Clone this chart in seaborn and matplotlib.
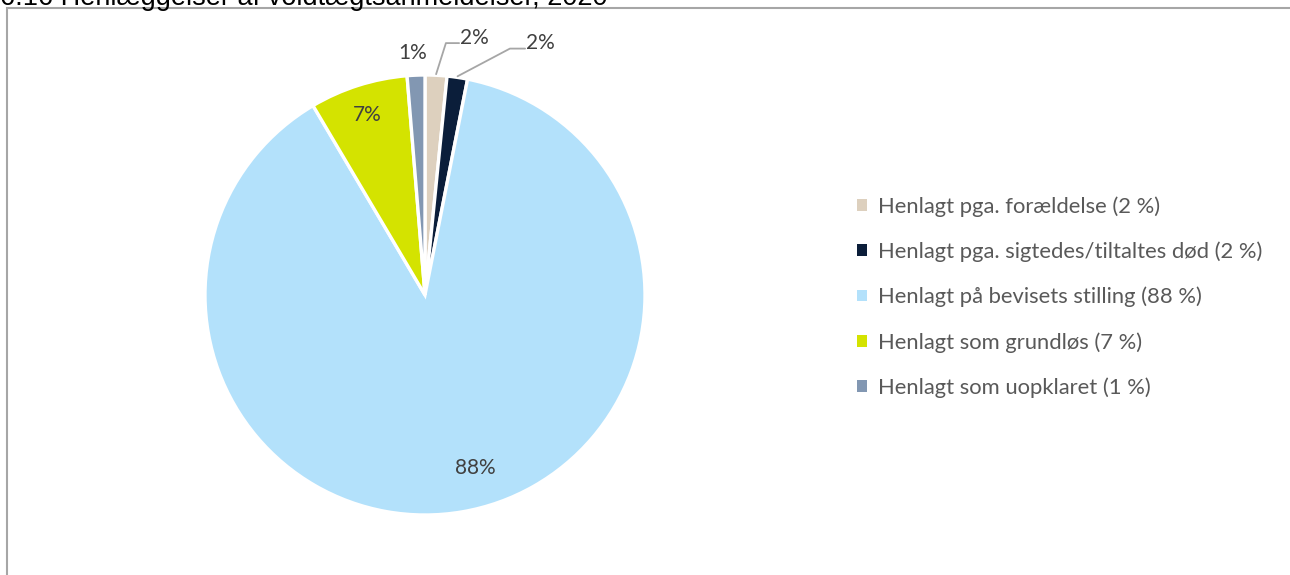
import matplotlib
matplotlib.use("Agg")
import matplotlib.pyplot as plt
from matplotlib.patches import Patch, Rectangle
import numpy as np
import seaborn as sns

categories = [
    "Henlagt pga. forældelse",
    "Henlagt pga. sigtedes/tiltaltes død",
    "Henlagt på bevisets stilling",
    "Henlagt som grundløs",
    "Henlagt som uopklaret",
]
values = [1.6, 1.5, 88.4, 7.2, 1.3]
value_labels = ["2%", "2%", "88%", "7%", "1%"]
legend_pct = ["2 %", "2 %", "88 %", "7 %", "1 %"]
colors = ["#DDD0BE", "#0B1E3A", "#B3E1FB", "#D4E300", "#8297B2"]
title = "6.16 Henlæggelser af voldtægtsanmeldelser, 2020"

sns.set_theme(style="white")
plt.rcParams["font.family"] = ["Lato", "DejaVu Sans"]

W, H = 1290, 575
fig = plt.figure(figsize=(W / 100, H / 100), dpi=100)

# outer frame
fig.patches.append(Rectangle((7 / W, -0.1), 1.2, 1 - 8 / H + 0.1, transform=fig.transFigure,
                             fill=False, edgecolor="#A6A6A6", linewidth=1.5))

# title, cut at the top edge as in the reference
fig.text(0.0, 1 - 5 / H, title, fontsize=19.5, family=["Liberation Sans", "DejaVu Sans"],
         color="#000000", va="baseline", ha="left")

cx, cy, r = 425, 295, 220
ax = fig.add_axes([(cx - r) / W, (H - cy - r) / H, 2 * r / W, 2 * r / H])
wedges, _ = ax.pie(values, colors=colors, startangle=90, counterclock=False,
                   wedgeprops=dict(edgecolor="white", linewidth=2.4))
ax.set_xlim(-1, 1)
ax.set_ylim(-1, 1)
ax.axis("off")

label_color = "#404040"
fs = 15

def mid_dir(w):
    a = np.deg2rad((w.theta1 + w.theta2) / 2)
    return np.cos(a), np.sin(a)

# inside labels
ax.text(0.227, -0.786, value_labels[2], ha="center", va="center", fontsize=fs, color=label_color)
dx, dy = mid_dir(wedges[3])
ax.text(dx * 0.86, dy * 0.86, value_labels[3], ha="center", va="center",
        fontsize=fs, color=label_color)

# 1% label (outside, no leader)
dx, dy = mid_dir(wedges[4])
ax.text(dx * 1.10 - 0.01, 1.10, value_labels[4], ha="center", va="center",
        fontsize=fs, color=label_color, clip_on=False)

# leader-line labels
leaders = [
    (0, (0.095, 1.145), (0.155, 1.145), (0.16, 1.17)),
    (1, (0.386, 1.12), (0.455, 1.12), (0.46, 1.145)),
]
for idx, elbow, end, txt in leaders:
    dx, dy = mid_dir(wedges[idx])
    start = (dx * 1.005, dy * 1.005)
    ax.plot([start[0], elbow[0], end[0]], [start[1], elbow[1], end[1]],
            color="#A6A6A6", linewidth=1.3, clip_on=False)
    ax.text(txt[0], txt[1], value_labels[idx], ha="left", va="center",
            fontsize=fs, color=label_color, clip_on=False)

handles = [Patch(facecolor=c, edgecolor="none") for c in colors]
labels = [f"{c} ({p})" for c, p in zip(categories, legend_pct)]
fig.legend(handles, labels, loc="upper left", bbox_to_anchor=(857 / W, 1 - 196 / H),
           frameon=False, fontsize=15.8, labelcolor="#595959",
           handlelength=0.45, handleheight=0.45, handletextpad=0.5, labelspacing=1.13,
           borderaxespad=0, borderpad=0)

fig.savefig("out.png", dpi=100)
